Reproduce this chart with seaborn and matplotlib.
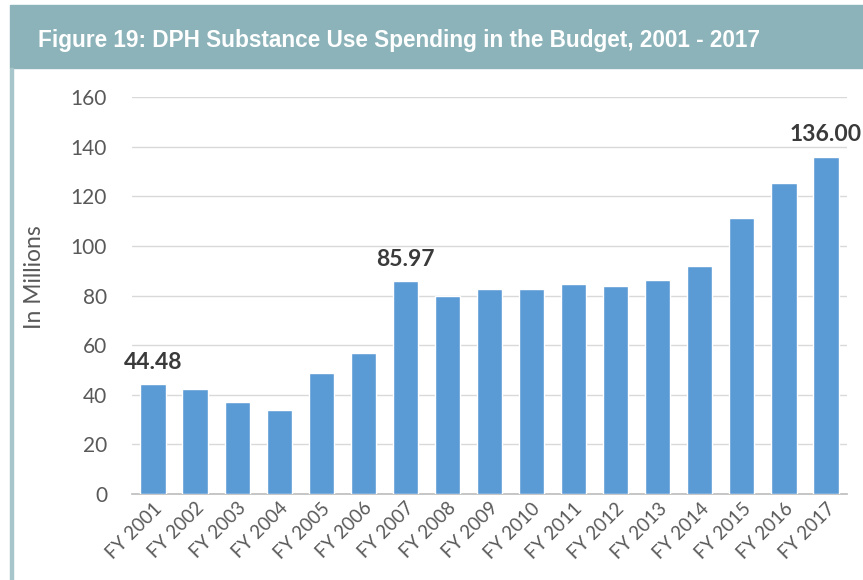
import matplotlib
matplotlib.use("Agg")
import matplotlib.pyplot as plt
import seaborn as sns
import pandas as pd
from matplotlib.patches import Rectangle

years = ["FY 2001", "FY 2002", "FY 2003", "FY 2004", "FY 2005", "FY 2006",
         "FY 2007", "FY 2008", "FY 2009", "FY 2010", "FY 2011", "FY 2012",
         "FY 2013", "FY 2014", "FY 2015", "FY 2016", "FY 2017"]
spending = [44.48, 42.2, 37.1, 34.0, 48.6, 56.7, 85.97, 79.7, 82.8, 82.7,
            84.8, 84.0, 86.1, 91.8, 111.3, 125.4, 136.00]
labeled = {"FY 2001": "44.48", "FY 2007": "85.97", "FY 2017": "136.00"}
yticks = [0, 20, 40, 60, 80, 100, 120, 140, 160]
title = "Figure 19: DPH Substance Use Spending in the Budget, 2001 - 2017"

sns.set_theme(style="white")
plt.rcParams['font.family'] = ['Lato', 'DejaVu Sans']

df = pd.DataFrame({"year": years, "spending": spending})

fig = plt.figure(figsize=(8.63, 5.80), dpi=100)
W, H = 863, 580
ax = fig.add_axes([132 / W, 1 - 494 / H, (847 - 132) / W, (494 - 97) / H])

teal = "#8cb3b9"
fig.patches.append(Rectangle((10 / W, 1 - 68 / H), 1 - 10 / W, 63 / H,
                             transform=fig.transFigure, color=teal, zorder=0))
fig.patches.append(Rectangle((10 / W, 0), 3 / W, 1 - 68 / H,
                             transform=fig.transFigure, color="#a7c6cb", zorder=0))
fig.text(38 / W, 1 - 41 / H, title, color="white", fontsize=16.3, fontweight="bold",
         family=["Liberation Sans", "DejaVu Sans"], va="center", ha="left")

sns.barplot(data=df, x="year", y="spending", color="#5b9bd5", saturation=1,
            width=0.6, ax=ax, zorder=3)

ax.set_ylim(0, 160)
ax.set_xlim(-0.5, len(years) - 0.5)
ax.set_yticks(yticks)
ax.set_yticklabels([str(t) for t in yticks], fontsize=15, color="#595959")
ax.grid(axis="y", color="#d9d9d9", lw=1, zorder=0)
ax.set_axisbelow(True)
for s in ["top", "right", "left"]:
    ax.spines[s].set_visible(False)
ax.spines["bottom"].set_color("#bfbfbf")
ax.tick_params(axis="y", length=0, pad=18)
ax.tick_params(axis="x", length=0, pad=4)
plt.setp(ax.get_xticklabels(), rotation=45, ha="right", rotation_mode="anchor",
         fontsize=13.5, color="#595959")
ax.set_xlabel("")
ax.set_ylabel("In Millions", fontsize=16.5, color="#595959")
ax.yaxis.set_label_coords((45 - 132) / (847 - 132), (494 - 277) / (494 - 97))

for i, (y, v) in enumerate(zip(years, spending)):
    if y in labeled:
        ax.annotate(labeled[y], (i, v), xytext=(0, 8), textcoords="offset points",
                    ha="center", va="bottom", fontsize=16.5, fontweight="bold",
                    color="#3a3a3a")

fig.savefig("out.png", dpi=100)
